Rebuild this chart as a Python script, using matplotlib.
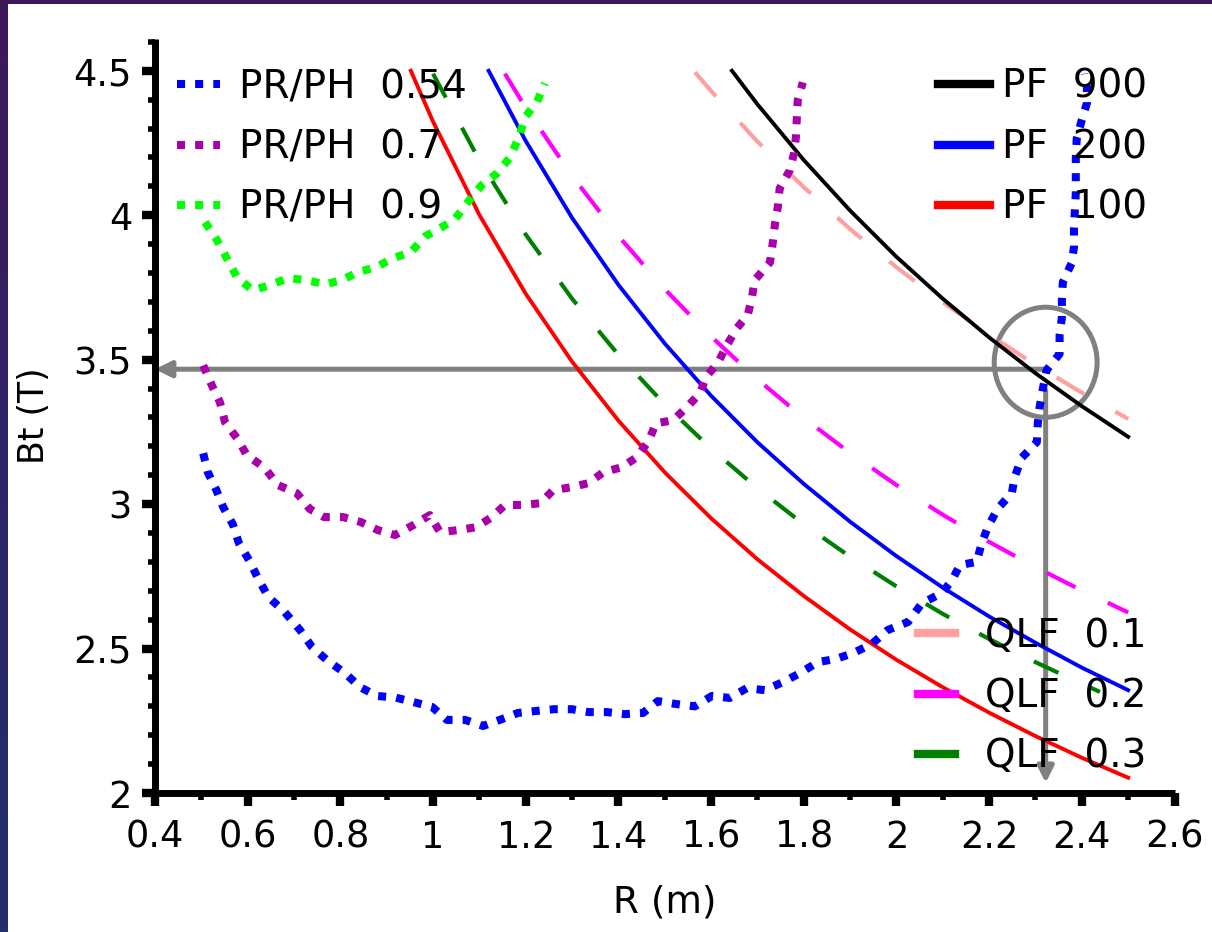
import numpy as np
import matplotlib
matplotlib.use("Agg")
import matplotlib.pyplot as plt
from matplotlib.colors import LinearSegmentedColormap
from matplotlib.patches import Rectangle, Ellipse
from matplotlib.ticker import MultipleLocator, FuncFormatter

# ---------------- data ----------------
# PR/PH dotted curves
r_prph054 = [0.504, 0.514, 0.532, 0.547, 0.568, 0.581, 0.603, 0.622, 0.644, 0.68, 0.713, 0.739,
             0.771, 0.81, 0.842, 0.879, 0.92, 0.957, 0.998, 1.03, 1.069, 1.108, 1.144, 1.183,
             1.222, 1.261, 1.30, 1.336, 1.375, 1.414, 1.453, 1.485, 1.524, 1.565, 1.602, 1.64,
             1.677, 1.716, 1.755, 1.792, 1.83, 1.869, 1.906, 1.947, 1.981, 2.025, 2.055, 2.098,
             2.12, 2.137, 2.173, 2.184, 2.197, 2.219, 2.249, 2.255, 2.27, 2.303, 2.305, 2.309,
             2.316, 2.324, 2.352, 2.352, 2.357, 2.357, 2.359, 2.378, 2.383, 2.383, 2.385, 2.387,
             2.387, 2.387, 2.389, 2.40, 2.411, 2.411, 2.406]
bt_prph054 = [3.176, 3.11, 3.05, 2.99, 2.93, 2.865, 2.806, 2.744, 2.68, 2.626, 2.564, 2.505,
              2.46, 2.415, 2.367, 2.336, 2.33, 2.315, 2.298, 2.253, 2.253, 2.232, 2.253, 2.277,
              2.284, 2.29, 2.29, 2.28, 2.28, 2.273, 2.277, 2.318, 2.308, 2.30, 2.336, 2.329,
              2.363, 2.356, 2.384, 2.415, 2.453, 2.464, 2.484, 2.516, 2.564, 2.592, 2.657, 2.692,
              2.737, 2.789, 2.80, 2.865, 2.92, 2.986, 3.038, 3.093, 3.16, 3.215, 3.28, 3.336,
              3.40, 3.464, 3.52, 3.585, 3.647, 3.706, 3.768, 3.834, 3.889, 3.955, 4.017, 4.076,
              4.138, 4.20, 4.266, 4.33, 4.388, 4.443, 4.49]

r_prph07 = [0.504, 0.523, 0.54, 0.551, 0.577, 0.598, 0.637, 0.665, 0.706, 0.734, 0.765, 0.806,
            0.844, 0.881, 0.918, 0.957, 0.993, 1.015, 1.054, 1.093, 1.127, 1.155, 1.194, 1.231,
            1.259, 1.30, 1.336, 1.367, 1.408, 1.44, 1.466, 1.481, 1.518, 1.548, 1.576, 1.589,
            1.615, 1.634, 1.656, 1.679, 1.688, 1.694, 1.727, 1.733, 1.738, 1.744, 1.748, 1.77,
            1.779, 1.783, 1.785, 1.787, 1.798]
bt_prph07 = [3.48, 3.41, 3.353, 3.284, 3.228, 3.17, 3.125, 3.066, 3.038, 2.983, 2.955, 2.955,
             2.938, 2.91, 2.893, 2.927, 2.962, 2.903, 2.91, 2.92, 2.955, 2.997, 2.997, 3.003,
             3.048, 3.059, 3.073, 3.11, 3.128, 3.163, 3.221, 3.28, 3.29, 3.336, 3.384, 3.44,
             3.49, 3.55, 3.61, 3.654, 3.713, 3.775, 3.837, 3.903, 3.972, 4.028, 4.093, 4.156,
             4.215, 4.27, 4.336, 4.398, 4.46]

r_prph09 = [0.508, 0.534, 0.555, 0.577, 0.611, 0.648, 0.687, 0.728, 0.767, 0.803, 0.838, 0.877,
            0.913, 0.952, 0.983, 1.015, 1.047, 1.075, 1.105, 1.138, 1.166, 1.187, 1.198, 1.224,
            1.241]
bt_prph09 = [3.976, 3.913, 3.851, 3.785, 3.74, 3.758, 3.782, 3.775, 3.761, 3.775, 3.803, 3.82,
             3.851, 3.872, 3.927, 3.955, 3.986, 4.045, 4.104, 4.145, 4.20, 4.277, 4.339, 4.391,
             4.457]

# PF solid curves
r_pf900 = [1.645, 1.70, 1.80, 1.90, 2.00, 2.10, 2.20, 2.30, 2.40, 2.50]
bt_pf900 = [4.50, 4.384, 4.191, 4.016, 3.856, 3.711, 3.577, 3.453, 3.339, 3.233]

r_pf200 = [1.12, 1.20, 1.30, 1.40, 1.50, 1.60, 1.70, 1.80, 1.90, 2.00, 2.10, 2.20, 2.30,
           2.40, 2.50]
bt_pf200 = [4.50, 4.257, 3.991, 3.759, 3.556, 3.375, 3.214, 3.070, 2.939, 2.820, 2.711,
            2.611, 2.520, 2.434, 2.356]

r_pf100 = [0.952, 1.00, 1.10, 1.20, 1.30, 1.40, 1.50, 1.60, 1.70, 1.80, 1.90, 2.00, 2.10,
           2.20, 2.30, 2.40, 2.50]
bt_pf100 = [4.50, 4.324, 4.001, 3.728, 3.493, 3.289, 3.110, 2.951, 2.809, 2.682, 2.566,
            2.461, 2.366, 2.278, 2.197, 2.122, 2.053]

# QLF dashed curves
r_qlf01 = [1.565, 1.60, 1.70, 1.80, 1.90, 2.00, 2.10, 2.20, 2.30, 2.40, 2.50]
bt_qlf01 = [4.495, 4.430, 4.255, 4.097, 3.952, 3.820, 3.699, 3.587, 3.482, 3.386, 3.295]

r_qlf02 = [1.155, 1.20, 1.30, 1.40, 1.50, 1.60, 1.70, 1.80, 1.90, 2.00, 2.10, 2.20, 2.30,
           2.40, 2.50]
bt_qlf02 = [4.49, 4.372, 4.136, 3.928, 3.744, 3.580, 3.432, 3.298, 3.177, 3.066, 2.963,
            2.869, 2.782, 2.701, 2.625]

r_qlf03 = [1.00, 1.10, 1.20, 1.30, 1.40, 1.50, 1.60, 1.70, 1.80, 1.90, 2.00, 2.10, 2.20,
           2.30, 2.40, 2.439]
bt_qlf03 = [4.49, 4.190, 3.933, 3.711, 3.517, 3.345, 3.192, 3.055, 2.930, 2.818, 2.715,
            2.620, 2.533, 2.453, 2.378, 2.35]

labels_prph = ["PR/PH  0.54", "PR/PH  0.7", "PR/PH  0.9"]
labels_pf = ["PF  900", "PF  200", "PF  100"]
labels_qlf = ["QLF  0.1", "QLF  0.2", "QLF  0.3"]

x_ticks = [0.4, 0.6, 0.8, 1.0, 1.2, 1.4, 1.6, 1.8, 2.0, 2.2, 2.4, 2.6]
y_ticks = [2.0, 2.5, 3.0, 3.5, 4.0, 4.5]

# operating point marker (arrows / circle)
op_r, op_bt = 2.322, 3.467

# ---------------- figure ----------------
W, H = 1212, 932
fig = plt.figure(figsize=(W / 100, H / 100), dpi=100)

bg = fig.add_axes([0, 0, 1, 1], zorder=-20)
bg.axis("off")
cmap = LinearSegmentedColormap.from_list("frame", ["#22306c", "#2e2468", "#3d1858"])
bg.imshow(np.linspace(0, 1, 256).reshape(-1, 1), aspect="auto", cmap=cmap,
          extent=[0, 1, 0, 1], origin="lower")
bg.add_patch(Rectangle((8 / W, 0), 1 - 8 / W, 1 - 4 / H, transform=bg.transAxes,
                       facecolor="white", edgecolor="none"))
bg.set_xlim(0, 1)
bg.set_ylim(0, 1)

ax = fig.add_axes([155 / W, 139 / H, 1019.5 / W, 754 / H])
ax.set_facecolor("none")

dot_style = (0, (1.0, 1.25))
lw_dot = 5.8
lw_solid = 2.8
lw_dash = 3.0

q1, = ax.plot(r_qlf01, bt_qlf01, color="#ffa0a0", lw=lw_dash, linestyle=(0, (7.7, 8.6)))
q2, = ax.plot(r_qlf02, bt_qlf02, color="#ff00ff", lw=lw_dash, linestyle=(0, (7.7, 8.6)))
q3, = ax.plot(r_qlf03, bt_qlf03, color="#008000", lw=lw_dash, linestyle=(0, (6.5, 8.2)))

p1, = ax.plot(r_pf900, bt_pf900, color="black", lw=lw_solid)
p2, = ax.plot(r_pf200, bt_pf200, color="#0000ff", lw=lw_solid)
p3, = ax.plot(r_pf100, bt_pf100, color="#ff0000", lw=lw_solid)

d1, = ax.plot(r_prph054, bt_prph054, color="#0000ff", lw=lw_dot, linestyle=dot_style,
              dash_capstyle="butt", zorder=3)
d2, = ax.plot(r_prph07, bt_prph07, color="#aa00aa", lw=lw_dot, linestyle=dot_style,
              dash_capstyle="butt", zorder=3)
d3, = ax.plot(r_prph09, bt_prph09, color="#00ff00", lw=lw_dot, linestyle=dot_style,
              dash_capstyle="butt", zorder=3)

gray = "#808080"
arrow_kw = dict(arrowstyle="-|>", color=gray, lw=3.6, mutation_scale=24,
                shrinkA=0, shrinkB=0)
ax.annotate("", xy=(0.4, op_bt), xytext=(op_r + 0.005, op_bt),
            arrowprops=arrow_kw, zorder=1.9, annotation_clip=False)
ax.annotate("", xy=(op_r, 2.035), xytext=(op_r, 3.394),
            arrowprops=arrow_kw, zorder=1.9)
ax.add_patch(Ellipse((op_r, 3.491), 0.222, 0.381, fill=False, edgecolor=gray, lw=3.6,
                     zorder=1.9))

# ---------------- axes styling ----------------
ax.set_xlim(0.4, 2.6)
ax.set_ylim(2.0, 4.61)
for s in ["top", "right"]:
    ax.spines[s].set_visible(False)
for s in ["left", "bottom"]:
    ax.spines[s].set_linewidth(5)
    ax.spines[s].set_capstyle("butt")

ax.set_xticks(x_ticks)
ax.set_yticks(y_ticks)
ax.xaxis.set_minor_locator(MultipleLocator(0.1))
ax.yaxis.set_minor_locator(MultipleLocator(0.1))
fmt = FuncFormatter(lambda v, p: "%g" % round(v, 3))
ax.xaxis.set_major_formatter(fmt)
ax.yaxis.set_major_formatter(fmt)

ax.tick_params(which="major", direction="out", length=9.5, width=6, labelsize=26.5)
ax.tick_params(which="minor", direction="out", length=5, width=4)
ax.tick_params(axis="x", which="major", pad=9)
ax.tick_params(axis="y", which="major", pad=7)

ax.set_xlabel("R (m)", fontsize=27)
ax.set_ylabel("Bt (T)", fontsize=25)
ax.xaxis.set_label_coords(0.5, -(902 - 793) / 754)
ax.xaxis.label.set_va("center")
ax.yaxis.set_label_coords(-(155 - 34) / 1019.5, 0.5)
ax.yaxis.label.set_va("center")

# ---------------- legends ----------------
leg_kw = dict(frameon=False, fontsize=28, borderpad=0, borderaxespad=0,
              labelspacing=0.57, loc="upper left", bbox_transform=fig.transFigure)

leg1 = ax.legend([d1, d2, d3], labels_prph, handlelength=1.1, handletextpad=0.5,
                 bbox_to_anchor=(177 / W, 1 - 68 / H), **leg_kw)
ax.add_artist(leg1)
leg2 = ax.legend([p1, p2, p3], labels_pf, handlelength=1.34, handletextpad=0.3,
                 bbox_to_anchor=(938 / W, 1 - 68 / H), **leg_kw)
for h in leg2.legend_handles:
    h.set_linewidth(6)
ax.add_artist(leg2)
leg3 = ax.legend([q1, q2, q3], labels_qlf, handlelength=0.95, handletextpad=0.78,
                 bbox_to_anchor=(918 / W, 1 - 617 / H), **leg_kw)
for h in leg3.legend_handles:
    h.set_linewidth(6)
    h.set_linestyle("-")

fig.savefig("out.png", dpi=100)
